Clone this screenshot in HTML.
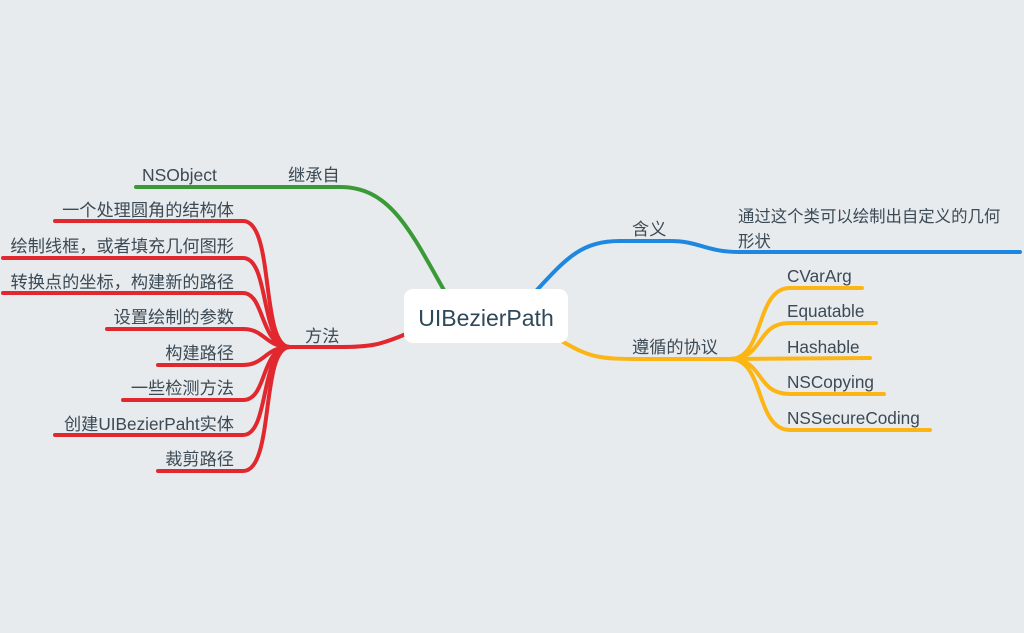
<!DOCTYPE html>
<html><head><meta charset="utf-8"><style>
html,body{margin:0;padding:0;background:#e8ebee;}
svg{display:block}
text{font-family:"Liberation Sans","Noto Sans CJK SC",sans-serif;fill:#3b4a55;font-size:17.2px}
</style></head><body>
<svg width="1024" height="633" viewBox="0 0 1024 633">
<rect width="1024" height="633" fill="#e8ebee"/>
<g fill="none" stroke-linecap="round" stroke-width="4">
<path d="M445 292 C410 230 390 187 340 187 L136 187" stroke="#3a9a36"/>
<path d="M535 292 C565 260 580 241 620 241 L670 241 C700 241 705 252 740 252 L1020 252" stroke="#1e88e0"/>
<path d="M560 340 C590 358 600 359 640 359 L730 359" stroke="#fbb615"/>
<g stroke="#fbb615">
<path d="M730 359 C765 359 755 288 790 288 L862 288"/>
<path d="M730 359 C765 359 755 323 790 323 L876 323"/>
<path d="M730 359 L870 358"/>
<path d="M730 359 C765 359 755 394 790 394 L884 394"/>
<path d="M730 359 C765 359 755 430 790 430 L930 430"/>
</g>
<path d="M406 334 C380 345 370 347 340 347 L290 347" stroke="#e0282e"/>
<g stroke="#e0282e">
<path d="M290 347 C260 347 275 221 243 221 L55 221"/>
<path d="M290 347 C260 347 270 258 243 258 L3 258"/>
<path d="M290 347 C260 347 265 293 243 293 L3 293"/>
<path d="M290 347 C265 347 265 329 243 329 L107 329"/>
<path d="M290 347 C265 347 265 365 243 365 L158 365"/>
<path d="M290 347 C260 347 268 400 243 400 L123 400"/>
<path d="M290 347 C260 347 270 435 243 435 L55 435"/>
<path d="M290 347 C260 347 275 471 243 471 L158 471"/>
</g>
</g>
<rect x="404" y="289" width="164" height="54" rx="9" fill="#fff"/>
<text x="486" y="326" text-anchor="middle" style="font-size:23px;fill:#2e4a5a">UIBezierPath</text>
<text x="288" y="181">继承自</text>
<text x="142" y="181" style="font-size:17.5px">NSObject</text>
<text x="305" y="342">方法</text>
<g text-anchor="end">
<text x="234" y="216">一个处理圆角的结构体</text>
<text x="234" y="252">绘制线框，或者填充几何图形</text>
<text x="234" y="288">转换点的坐标，构建新的路径</text>
<text x="234" y="323">设置绘制的参数</text>
<text x="234" y="359">构建路径</text>
<text x="234" y="394">一些检测方法</text>
<text x="234" y="430">创建UIBezierPaht实体</text>
<text x="234" y="465">裁剪路径</text>
</g>
<text x="632" y="235">含义</text>
<text x="738" y="222" style="font-size:16.4px">通过这个类可以绘制出自定义的几何</text>
<text x="738" y="247" style="font-size:16.4px">形状</text>
<text x="632" y="353">遵循的协议</text>
<g style="font-size:17px">
<text x="787" y="282">CVarArg</text>
<text x="787" y="317">Equatable</text>
<text x="787" y="353">Hashable</text>
<text x="787" y="388">NSCopying</text>
<text x="787" y="424">NSSecureCoding</text>
</g>
</svg>
</body></html>
